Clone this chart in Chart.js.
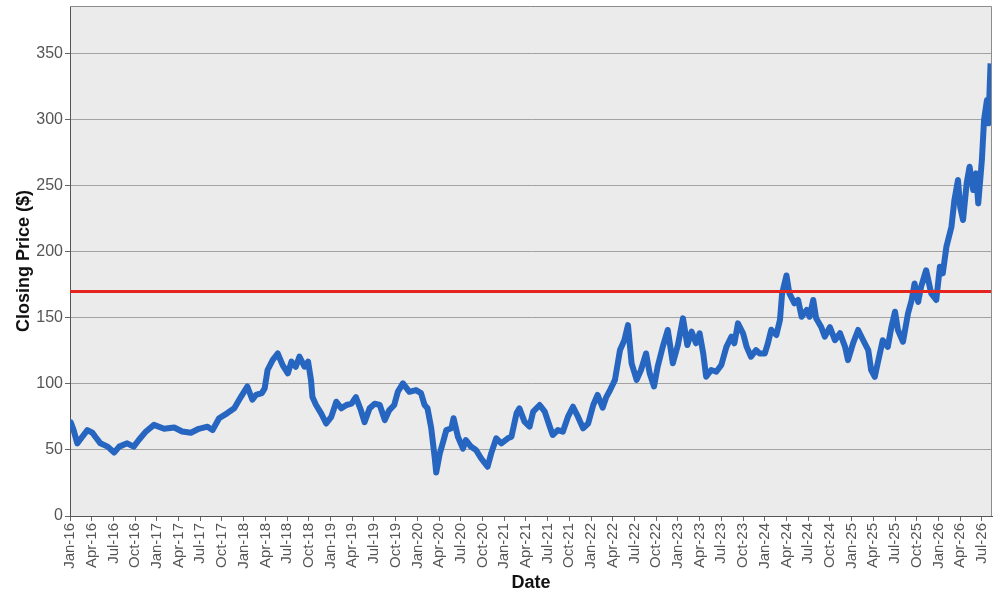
<!DOCTYPE html>
<html>
<head>
<meta charset="utf-8">
<script src="https://cdn.jsdelivr.net/npm/chart.js@4.4.1/dist/chart.umd.min.js"></script>
<style>
  html, body { margin: 0; padding: 0; background: #fff; }
  #wrap { width: 1000px; height: 600px; }
</style>
</head>
<body>
<div id="wrap"><canvas id="priceChart" width="1000" height="600"></canvas></div>
<script>
/* ===== DATA (months since Jan-2016, closing price) ===== */
const monthPos = [
  0.0, 0.1, 0.5, 1.0, 1.7, 2.4, 3.1, 3.5, 4.2, 5.2, 6.1, 6.8, 7.9, 8.8, 9.5, 10.5, 11.6,
  13.0, 14.4, 15.5, 16.7, 17.8, 19.0, 19.7, 20.6, 21.7, 22.7, 23.6, 24.5, 25.2, 25.7,
  26.5, 26.9, 27.3, 28.0, 28.7, 29.4, 30.1, 30.6, 31.2, 31.7, 32.4, 32.9, 33.3, 33.5,
  34.0, 34.7, 35.4, 36.1, 36.8, 37.5, 38.2, 38.9, 39.5, 40.2, 40.7, 41.4, 42.1, 42.8,
  43.5, 44.1, 44.8, 45.3, 46.0, 46.9, 47.8, 48.5, 49.0, 49.4, 49.9, 50.4, 50.6, 51.1,
  51.5, 52.0, 52.7, 53.0, 53.6, 54.3, 54.7, 55.4, 56.1, 56.8, 57.7, 58.2, 58.9, 59.6,
  60.5, 61.0, 61.7, 62.1, 62.8, 63.5, 64.0, 64.9, 65.6, 66.3, 66.7, 67.4, 68.1, 68.8,
  69.5, 70.2, 70.9, 71.6, 72.3, 72.9, 73.6, 74.1, 74.6, 75.3, 76.0, 76.6, 77.1, 77.6,
  78.3, 78.9, 79.6, 80.1, 80.7, 81.2, 81.9, 82.6, 83.3, 84.0, 84.7, 85.3, 85.9, 86.5,
  87.0, 87.5, 87.9, 88.6, 89.3, 90.0, 90.7, 91.4, 91.8, 92.3, 93.0, 93.5, 94.1, 94.8,
  95.3, 96.0, 96.4, 96.9, 97.6, 98.1, 98.4, 99.0, 99.4, 100.1, 100.6, 101.1, 101.8,
  102.2, 102.7, 103.1, 103.8, 104.3, 105.0, 105.7, 106.4, 107.1, 107.5, 108.2, 108.9,
  109.6, 110.3, 110.7, 111.2, 111.7, 112.3, 113.0, 113.5, 114.0, 114.4, 115.1, 115.8,
  116.3, 116.7, 117.2, 117.6, 118.3, 119.0, 119.7, 120.2, 120.6, 121.1, 121.8, 122.2,
  122.7, 123.0, 123.4, 123.9, 124.3, 124.8, 125.2, 125.5, 126.0, 126.3, 126.7, 126.9, 127.2
];

const closePrice = [
  70, 71, 65, 55, 60, 65, 63, 60, 55, 52.5, 48, 52.5, 55, 52.5, 57.5, 64, 69,
  66, 67, 64, 63, 66, 67.6, 65, 74, 77.7, 81.5, 90, 98, 88, 91.6,
  93, 96.6, 110.5, 118, 123, 114, 108, 116.8, 113, 120.6, 113, 116.8, 103, 90,
  84, 77.7, 70, 75, 86.5, 81.5, 84, 85, 90, 80, 71, 81.5, 85, 84,
  72.6, 80, 84, 94, 100.4, 94, 95.3, 93, 84, 81.5, 67, 44, 33, 47.4,
  55, 65, 66.4, 74, 60, 51, 57.5, 52.5, 50, 43.7, 37.3, 47.4, 58.8, 55,
  58.8, 60, 77.7, 81.5, 71.4, 67.6, 79, 84, 79, 67.6, 61.3, 65, 63.8, 75,
  82.7, 75, 66.4, 70, 84, 91.6, 82, 90, 95, 103, 125.6, 133, 144.5, 115.6,
  103, 110.5, 123, 108, 98, 113, 128, 140.8, 115.6, 129.4, 149.6, 129.4, 139.5, 130.7,
  138.3, 123, 105.4, 110.5, 109.2, 114.3, 128, 135.7, 130.7, 145.8, 138.3, 128, 120.6, 125.6,
  123, 123, 130, 141, 137, 148.3, 168.5, 182, 168.5, 161, 163.5, 150.8, 155.9,
  150.8, 163.5, 149.6, 143, 135.7, 143, 133, 138.3, 128, 118, 130.7, 140.8,
  133, 125.6, 110.5, 105.4, 118, 133, 128, 143, 154.6, 140.8, 131.9, 153.4,
  163.5, 176, 162, 173.5, 186, 168.5, 163.5, 188.7, 183.7, 203.8, 219, 239,
  254.3, 234, 224, 251.8, 264.3, 246.7, 259.3, 236.6, 269.4, 299.7, 314.8, 297.2, 342.6
];

const tickLabels = [
  'Jan-16', 'Apr-16', 'Jul-16', 'Oct-16', 'Jan-17', 'Apr-17', 'Jul-17', 'Oct-17',
  'Jan-18', 'Apr-18', 'Jul-18', 'Oct-18', 'Jan-19', 'Apr-19', 'Jul-19', 'Oct-19',
  'Jan-20', 'Apr-20', 'Jul-20', 'Oct-20', 'Jan-21', 'Apr-21', 'Jul-21', 'Oct-21',
  'Jan-22', 'Apr-22', 'Jul-22', 'Oct-22', 'Jan-23', 'Apr-23', 'Jul-23', 'Oct-23',
  'Jan-24', 'Apr-24', 'Jul-24', 'Oct-24', 'Jan-25', 'Apr-25', 'Jul-25', 'Oct-25',
  'Jan-26', 'Apr-26', 'Jul-26'
];

const thresholdPrice = 170;
const xEnd = 127.4;

/* ===== PLOT BACKGROUND ===== */
const plotBox = {
  id: 'plotBox',
  beforeDraw(chart) {
    const { ctx, chartArea: a } = chart;
    ctx.save();
    ctx.fillStyle = '#ebebeb';
    ctx.fillRect(a.left, a.top, a.right - a.left, a.bottom - a.top);
    ctx.restore();
  },
  afterDraw(chart) {
    const { ctx, chartArea: a } = chart;
    ctx.save();
    ctx.strokeStyle = '#8c8c8c';
    ctx.lineWidth = 1;
    ctx.beginPath();
    ctx.moveTo(a.left, a.top + 0.5);
    ctx.lineTo(a.right - 0.5, a.top + 0.5);
    ctx.lineTo(a.right - 0.5, a.bottom);
    ctx.stroke();
    ctx.restore();
  }
};

const ctx = document.getElementById('priceChart').getContext('2d');

new Chart(ctx, {
  type: 'line',
  data: {
    datasets: [
      {
        data: [{ x: 0, y: thresholdPrice }, { x: xEnd, y: thresholdPrice }],
        borderColor: '#e3241f',
        borderWidth: 3,
        pointRadius: 0
      },
      {
        data: monthPos.map((m, i) => ({ x: m, y: closePrice[i] })),
        borderColor: '#2766c0',
        borderWidth: 6,
        pointRadius: 0,
        tension: 0,
        borderJoinStyle: 'round',
        borderCapStyle: 'butt'
      }
    ]
  },
  plugins: [plotBox],
  options: {
    responsive: false,
    animation: false,
    layout: { padding: { top: 6, right: 8, left: 0, bottom: 0 } },
    plugins: {
      legend: { display: false },
      tooltip: { enabled: false }
    },
    scales: {
      x: {
        type: 'linear',
        min: 0,
        max: xEnd,
        afterFit: (s) => {
          s.height = 84;
          s.paddingLeft = 0;
          s.paddingRight = 0;
        },
        grid: {
          drawOnChartArea: false,
          drawTicks: true,
          tickLength: 5,
          tickColor: '#666'
        },
        border: { color: '#555', width: 1 },
        ticks: {
          stepSize: 3,
          includeBounds: false,
          autoSkip: false,
          maxRotation: 90,
          minRotation: 90,
          padding: 2,
          color: '#555',
          font: { family: 'Liberation Sans', size: 15 },
          callback: (v) => tickLabels[Math.round(v / 3)]
        },
        title: {
          display: true,
          text: 'Date',
          color: '#111',
          padding: { top: 7, bottom: 6 },
          font: { family: 'Liberation Sans', size: 18, weight: 'bold' }
        }
      },
      y: {
        min: 0,
        max: 386,
        afterFit: (s) => {
          s.width = 70;
          s.paddingTop = 0;
          s.paddingBottom = 0;
        },
        grid: {
          color: '#a2a2a2',
          lineWidth: 1,
          drawTicks: true,
          tickLength: 5,
          tickColor: '#666'
        },
        border: { color: '#555', width: 1 },
        ticks: {
          stepSize: 50,
          includeBounds: false,
          padding: 2,
          color: '#555',
          font: { family: 'Liberation Sans', size: 16 }
        },
        title: {
          display: true,
          text: 'Closing Price ($)',
          color: '#111',
          padding: { top: 13, bottom: 4 },
          font: { family: 'Liberation Sans', size: 18, weight: 'bold' }
        }
      }
    }
  }
});
</script>
</body>
</html>
